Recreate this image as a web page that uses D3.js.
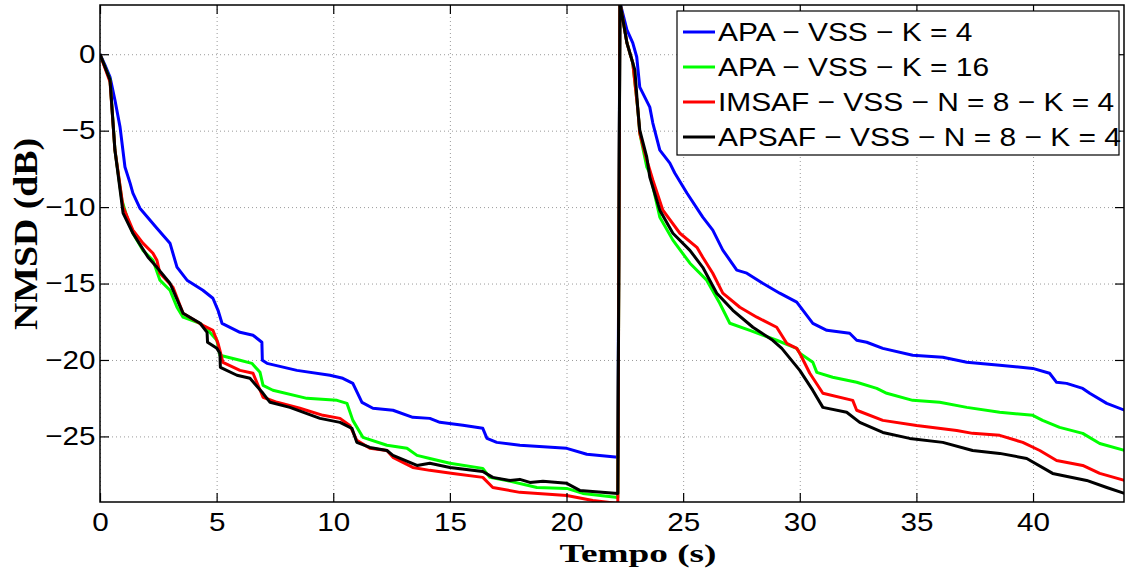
<!DOCTYPE html>
<html>
<head>
<meta charset="utf-8">
<script src="https://cdn.jsdelivr.net/npm/d3@7"></script>
<style>
body { margin: 0; background: #fff; }
svg { display: block; }
.grid line { stroke: #9a9a9a; stroke-width: 1; stroke-dasharray: 1,3; }
.grid path { display: none; }
.ax path { display: none; }
.ax line { stroke: #000; stroke-width: 1.2; }
.trace { fill: none; stroke-width: 3; stroke-linejoin: round; }
</style>
</head>
<body>
<div id="chart"></div>
<script>
// values (time in s, NMSD in dB)
var xTicks = [0, 5, 10, 15, 20, 25, 30, 35, 40],
    yTicks = [-25, -20, -15, -10, -5, 0];

var apaK4 = [[0,0],[0.21,-0.7],[0.43,-1.5],[0.64,-3.0],[0.86,-4.77],[1.07,-7.38],[1.29,-8.43],[1.41,-9.08],[1.71,-10.07],
  [2.44,-11.38],[3.0,-12.36],[3.3,-13.93],[3.73,-14.78],[4.41,-15.44],[4.84,-15.96],[5.06,-16.75],[5.23,-17.6],[6.0,-18.19],
  [6.56,-18.38],[6.94,-18.84],[6.96,-20.02],[7.16,-20.22],[8.44,-20.68],[9.86,-21.0],[10.41,-21.2],[10.84,-21.53],[11.23,-22.77],
  [11.7,-23.16],[12.56,-23.29],[13.41,-23.75],[14.14,-23.82],[14.57,-24.08],[15.56,-24.27],[16.41,-24.47],[16.59,-25.13],
  [17.01,-25.39],[18.0,-25.58],[20.01,-25.78],[20.87,-26.17],[22.2,-26.37],
  [22.29,3.4],[22.59,1.59],[22.84,0.74],[23.01,-0.18],[23.14,-2.15],[23.57,-3.46],[23.7,-4.5],[24.0,-6.27],[24.43,-7.12],
  [24.64,-7.77],[25.16,-9.08],[25.84,-10.66],[26.27,-11.51],[26.7,-12.81],[27.3,-14.12],[27.73,-14.32],[28.41,-14.98],
  [29.14,-15.63],[29.87,-16.22],[30.56,-17.6],[31.16,-18.06],[32.14,-18.25],[32.44,-18.71],[32.87,-18.84],[33.56,-19.24],
  [34.84,-19.69],[36.13,-19.82],[37.16,-20.15],[38.57,-20.35],[39.99,-20.55],[40.71,-20.87],[41.01,-21.46],[41.44,-21.53],
  [42.13,-21.86],[42.43,-22.18],[43.16,-22.84],[43.93,-23.29]];

var apaK16 = [[0,0],[0.43,-1.68],[0.64,-6.27],[0.94,-9.55],[1.16,-10.67],[1.41,-11.71],[1.84,-12.83],[2.27,-13.48],[2.57,-14.78],
  [3.0,-15.44],[3.3,-16.55],[3.56,-17.2],[4.29,-17.6],[4.63,-18.06],[5.01,-18.71],[5.14,-19.69],[6.0,-20.02],[6.51,-20.22],
  [6.86,-20.81],[6.99,-21.66],[7.41,-21.98],[8.87,-22.51],[10.16,-22.64],[10.59,-22.84],[10.84,-23.95],[11.27,-25.06],
  [12.3,-25.58],[13.16,-25.78],[13.59,-26.24],[14.14,-26.44],[15.0,-26.76],[16.41,-27.09],[16.71,-27.68],[17.44,-27.88],
  [18.73,-28.34],[20.01,-28.4],[20.7,-28.73],[22.2,-28.99],
  [22.29,3.4],[22.59,0.74],[22.84,-0.57],[23.06,-3.65],[23.14,-5.16],[23.44,-7.38],[23.57,-7.77],[24.0,-10.66],[24.56,-12.16],
  [25.29,-13.67],[26.01,-14.78],[26.57,-16.29],[27.0,-17.6],[27.86,-18.06],[29.01,-18.71],[29.87,-19.24],[30.0,-19.56],
  [30.56,-20.15],[30.73,-20.81],[31.41,-21.13],[32.44,-21.46],[33.3,-21.86],[33.73,-22.18],[34.84,-22.64],[36.0,-22.77],
  [37.16,-23.1],[38.57,-23.42],[39.99,-23.62],[40.41,-23.95],[41.14,-24.41],[42.13,-24.8],[42.86,-25.46],[43.93,-25.92]];

var imsaf = [[0,0],[0.43,-1.81],[0.64,-6.27],[0.99,-10.0],[1.41,-11.51],[1.84,-12.36],[2.27,-13.02],[2.44,-13.48],[2.57,-14.33],
  [3.13,-15.24],[3.56,-16.94],[4.41,-17.73],[4.84,-18.06],[5.06,-18.91],[5.14,-19.37],[5.27,-20.15],[6.0,-20.68],[6.56,-20.87],
  [6.99,-22.44],[7.59,-22.77],[8.57,-23.16],[9.56,-23.62],[10.29,-23.82],[10.71,-24.28],[11.01,-25.26],[11.57,-25.78],
  [12.3,-25.92],[12.56,-26.37],[13.41,-27.03],[14.14,-27.22],[15.13,-27.42],[16.41,-27.68],[16.84,-28.34],[18.0,-28.66],
  [20.01,-28.86],[21.13,-29.19],[22.2,-29.38],
  [22.29,3.4],[22.59,0.74],[22.84,-0.57],[23.06,-3.65],[23.14,-5.16],[23.27,-5.95],[23.44,-6.92],[23.7,-8.23],[24.13,-10.2],
  [24.86,-11.71],[25.59,-12.63],[25.84,-13.28],[26.27,-14.33],[26.7,-15.63],[27.43,-16.55],[28.16,-17.2],[29.01,-17.86],
  [29.44,-18.91],[29.87,-19.24],[30.0,-19.56],[30.43,-20.87],[30.99,-22.18],[32.27,-22.64],[32.44,-23.29],[33.56,-23.95],
  [35.01,-24.28],[36.73,-24.61],[37.41,-24.8],[38.57,-24.93],[39.56,-25.39],[40.29,-25.92],[41.01,-26.57],[42.13,-26.9],
  [42.86,-27.42],[43.93,-27.88]];

var apsaf = [[0,0],[0.43,-1.68],[0.64,-6.27],[0.99,-10.39],[1.41,-11.71],[2.06,-13.28],[2.44,-13.94],[3.0,-14.98],[3.56,-16.94],
  [4.29,-17.6],[4.59,-18.19],[4.61,-18.84],[5.01,-19.24],[5.14,-19.56],[5.16,-20.48],[5.87,-21.0],[6.43,-21.2],[6.99,-22.18],
  [7.29,-22.77],[8.14,-23.1],[9.43,-23.82],[10.29,-24.08],[10.8,-24.47],[11.01,-25.39],[11.57,-25.72],[12.3,-25.92],
  [12.56,-26.24],[13.59,-26.9],[14.14,-26.76],[15.0,-27.03],[16.41,-27.29],[16.84,-27.68],[17.57,-27.88],[18.0,-27.81],
  [18.43,-28.01],[18.99,-27.94],[20.01,-28.07],[20.57,-28.53],[22.2,-28.73],
  [22.29,3.4],[22.59,0.74],[22.84,-0.57],[22.93,-1.03],[23.06,-3.65],[23.14,-4.96],[23.44,-6.73],[23.57,-8.04],[24.0,-10.2],
  [24.56,-11.71],[25.29,-12.83],[25.84,-13.94],[26.44,-15.63],[27.13,-16.75],[27.99,-17.86],[28.84,-18.71],[29.23,-19.24],
  [30.0,-20.68],[30.56,-21.99],[30.99,-23.1],[32.01,-23.42],[32.57,-24.08],[33.56,-24.74],[34.71,-25.13],[36.13,-25.39],
  [37.41,-25.92],[38.57,-26.11],[39.73,-26.44],[40.84,-27.42],[42.3,-27.88],[43.16,-28.34],[43.93,-28.73]];

var seriesNames = ["APA \u2212 VSS \u2212 K = 4", "APA \u2212 VSS \u2212 K = 16",
                   "IMSAF \u2212 VSS \u2212 N = 8 \u2212 K = 4", "APSAF \u2212 VSS \u2212 N = 8 \u2212 K = 4"],
    seriesColors = ["#0000ff", "#00ff00", "#ff0000", "#000000"],
    seriesData = [apaK4, apaK16, imsaf, apsaf];

var svg = d3.select("#chart").append("svg")
    .attr("width", 1125)
    .attr("height", 570);

var margin = { top: 5, right: 1, bottom: 68, left: 100 },
    width = 1125 - margin.left - margin.right,
    height = 570 - margin.top - margin.bottom,
    g = svg.append("g").attr("transform", "translate(" + margin.left + "," + margin.top + ")");

var x = d3.scaleLinear().domain([0, 43.9]).range([0, width]);
var y = d3.scaleLinear().domain([-29.29, 3.22]).range([height, 0]);

var tickFont = "'Liberation Sans', Arial, Helvetica, sans-serif";

// dotted grid
g.append("g").attr("class", "grid")
    .attr("transform", "translate(0," + height + ")")
    .call(d3.axisBottom(x).tickValues(xTicks).tickSize(-height).tickFormat(""));
g.append("g").attr("class", "grid")
    .call(d3.axisLeft(y).tickValues(yTicks).tickSize(-width).tickFormat(""));

g.append("defs").append("clipPath")
    .attr("id", "clip")
    .append("rect")
    .attr("width", width)
    .attr("height", height);

var line = d3.line()
    .x(function (d) { return x(d[0]); })
    .y(function (d) { return y(d[1]); });

var traces = g.append("g").attr("clip-path", "url(#clip)");
seriesData.forEach(function (data, i) {
    traces.append("path")
        .datum(data)
        .attr("class", "trace")
        .attr("stroke", seriesColors[i])
        .attr("d", line);
});

// axes, MATLAB style: ticks inside on all four sides
g.append("g").attr("class", "ax")
    .attr("transform", "translate(0," + height + ")")
    .call(d3.axisBottom(x).tickValues(xTicks).tickSizeInner(-9).tickSizeOuter(0).tickPadding(11));
g.append("g").attr("class", "ax")
    .call(d3.axisLeft(y).tickValues(yTicks).tickSizeInner(-9).tickSizeOuter(0).tickPadding(4));
g.append("g").attr("class", "ax")
    .call(d3.axisTop(x).tickValues(xTicks).tickSizeInner(-9).tickSizeOuter(0).tickFormat(""));
g.append("g").attr("class", "ax")
    .attr("transform", "translate(" + width + ",0)")
    .call(d3.axisRight(y).tickValues(yTicks).tickSizeInner(-9).tickSizeOuter(0).tickFormat(""));

g.selectAll(".ax text")
    .attr("fill", "#000")
    .style("font-family", tickFont)
    .style("font-size", "26px")
    .attr("transform", "scale(1.14,1)");

g.append("rect")
    .attr("width", width)
    .attr("height", height)
    .attr("fill", "none")
    .attr("stroke", "#000")
    .attr("stroke-width", 1.5);

// axis titles
svg.append("text")
    .attr("x", 638)
    .attr("y", 562)
    .attr("text-anchor", "middle")
    .attr("textLength", 157)
    .attr("lengthAdjust", "spacingAndGlyphs")
    .style("font-family", "'Liberation Serif', 'DejaVu Serif', serif")
    .style("font-weight", "bold")
    .style("font-size", "26px")
    .text("Tempo (s)");

svg.append("text")
    .attr("transform", "translate(37,234) rotate(-90)")
    .attr("text-anchor", "middle")
    .attr("textLength", 192)
    .attr("lengthAdjust", "spacingAndGlyphs")
    .style("font-family", "'Liberation Serif', 'DejaVu Serif', serif")
    .style("font-weight", "bold")
    .style("font-size", "33px")
    .text("NMSD (dB)");

// legend
var legend = svg.append("g").attr("transform", "translate(677,11)");
legend.append("rect")
    .attr("width", 442)
    .attr("height", 144)
    .attr("fill", "#fff")
    .attr("stroke", "#000")
    .attr("stroke-width", 1.2);

var items = legend.selectAll(".item")
    .data(seriesNames)
    .enter().append("g")
    .attr("transform", function (d, i) { return "translate(0," + (21 + i * 35) + ")"; });

items.append("line")
    .attr("x1", 6).attr("x2", 38)
    .attr("stroke", function (d, i) { return seriesColors[i]; })
    .attr("stroke-width", 3);

items.append("text")
    .attr("transform", "translate(41,9) scale(1.15,1)")
    .style("font-family", tickFont)
    .style("font-size", "26px")
    .attr("fill", "#000")
    .text(function (d) { return d; });
</script>
</body>
</html>
